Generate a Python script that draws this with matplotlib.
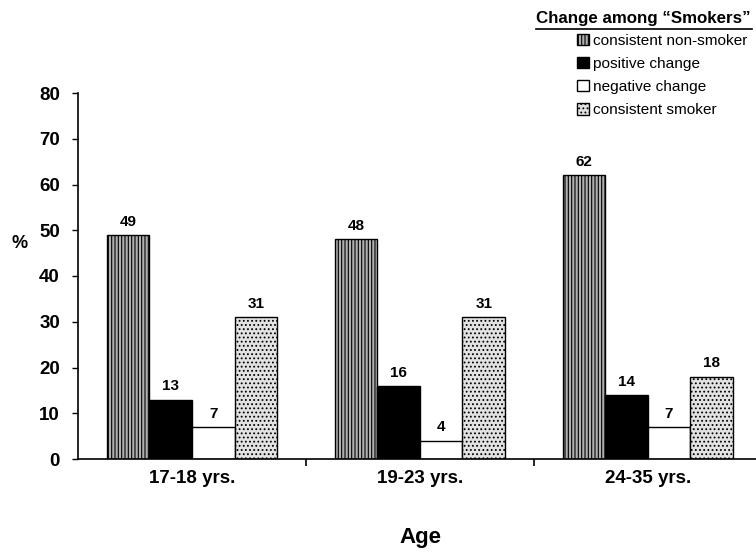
import numpy as np
import matplotlib.pyplot as plt
from matplotlib.patches import Patch

plt.rcParams['font.family'] = ['Liberation Sans', 'DejaVu Sans']
plt.rcParams['hatch.linewidth'] = 0.8

# data
AGE_GROUPS = ["17-18 yrs.", "19-23 yrs.", "24-35 yrs."]
SERIES = ["consistent non-smoker", "positive change", "negative change", "consistent smoker"]
NON_SMOKER = [49, 48, 62]
POSITIVE = [13, 16, 14]
NEGATIVE = [7, 4, 7]
SMOKER = [31, 31, 18]
VALUES = [NON_SMOKER, POSITIVE, NEGATIVE, SMOKER]

STYLES = [
    dict(facecolor="#b0b0b0", hatch="|||||", edgecolor="black"),
    dict(facecolor="black", edgecolor="black"),
    dict(facecolor="white", edgecolor="black"),
    dict(facecolor="#e2e2e2", hatch="....", edgecolor="black"),
]

fig = plt.figure(figsize=(7.56, 5.52), dpi=100)
ax = fig.add_axes([78 / 756, (552 - 459) / 552, 1 - 78 / 756, (459 - 93) / 552])

X = np.arange(len(AGE_GROUPS))
W = 0.187
OFFSETS = [-1.5, -0.5, 0.5, 1.5]

for VALS, STY, OFF in zip(VALUES, STYLES, OFFSETS):
    BARS = ax.bar(X + OFF * W, VALS, W, linewidth=1.0, **STY)
    for B, V in zip(BARS, VALS):
        ax.text(B.get_x() + B.get_width() / 2, V + 2.9, str(V),
                ha="center", va="center", fontsize=11, fontweight="bold")

ax.set_xlim(-0.5, 2.475)
ax.set_ylim(0, 80)
ax.set_yticks(range(0, 81, 10))
ax.set_yticklabels([str(v) for v in range(0, 81, 10)], fontsize=13.5, fontweight="bold")
ax.set_xticks([0.5, 1.5])
ax.set_xticklabels([])
ax.tick_params(axis="x", length=5, width=1.2)
ax.tick_params(axis="y", length=4, width=1.0, pad=9)
for I, LBL in enumerate(AGE_GROUPS):
    ax.text(I, -4.2, LBL, ha="center", va="center", fontsize=13.5, fontweight="bold")

ax.spines["top"].set_visible(False)
ax.spines["right"].set_visible(False)
ax.spines["left"].set_linewidth(1.2)
ax.spines["bottom"].set_linewidth(1.2)

fig.text(12 / 756, 1 - 243 / 552, "%", ha="left", va="center", fontsize=13, fontweight="bold")
fig.text(420 / 756, 1 - 537 / 552, "Age", ha="center", va="center", fontsize=16, fontweight="bold")

# legend
fig.text(536 / 756, 1 - 19 / 552, "Change among \u201cSmokers\u201d", ha="left", va="center",
         fontsize=12.2, fontweight="bold")
fig.add_artist(plt.Line2D([536 / 756, 752 / 756], [1 - 28.5 / 552, 1 - 28.5 / 552],
                          color="black", linewidth=1.2))
HANDLES = [Patch(linewidth=1.0, label=S, **STY) for S, STY in zip(SERIES, STYLES)]
fig.legend(handles=HANDLES, loc="upper left", bbox_to_anchor=(577 / 756, 1 - 33.5 / 552),
           frameon=False, fontsize=11.1, handlelength=0.75, handleheight=0.75,
           handletextpad=0.3, labelspacing=0.6, borderpad=0, borderaxespad=0)

fig.savefig("out.png", dpi=100)
